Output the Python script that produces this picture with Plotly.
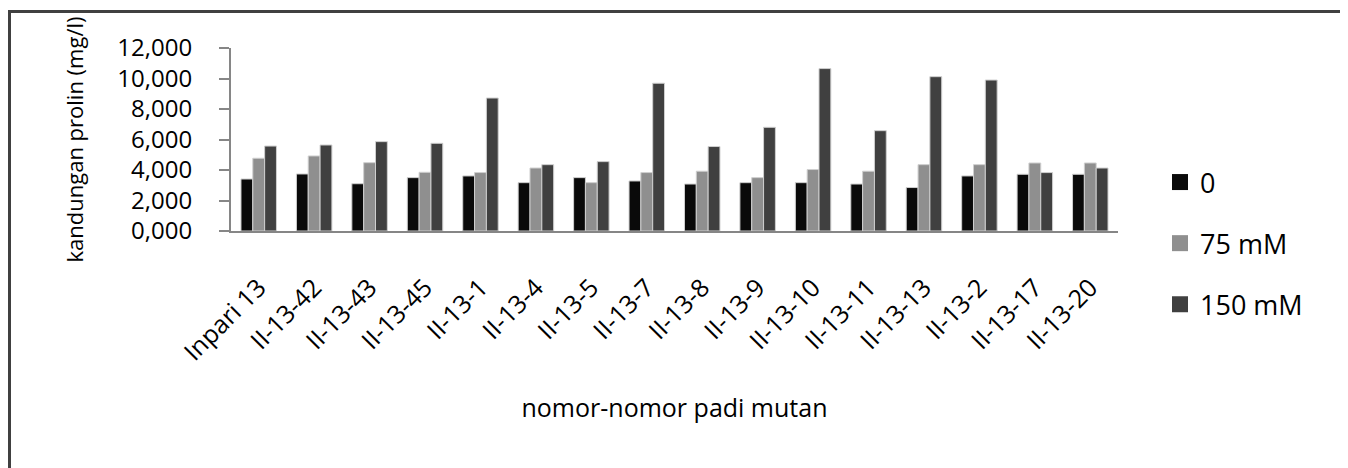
import plotly.graph_objects as go

categories = ["Inpari 13", "II-13-42", "II-13-43", "II-13-45", "II-13-1", "II-13-4",
              "II-13-5", "II-13-7", "II-13-8", "II-13-9", "II-13-10", "II-13-11",
              "II-13-13", "II-13-2", "II-13-17", "II-13-20"]
series_names = ["0", "75 mM", "150 mM"]
vals_0 = [3.41, 3.74, 3.10, 3.50, 3.61, 3.17, 3.50, 3.28, 3.08, 3.17, 3.17, 3.08, 2.85, 3.61, 3.72, 3.72]
vals_75 = [4.77, 4.92, 4.48, 3.85, 3.83, 4.13, 3.17, 3.83, 3.92, 3.50, 4.03, 3.92, 4.35, 4.35, 4.46, 4.46]
vals_150 = [5.57, 5.64, 5.86, 5.75, 8.72, 4.35, 4.55, 9.69, 5.54, 6.80, 10.65, 6.58, 10.12, 9.90, 3.83, 4.13]
y_ticks = [0, 2, 4, 6, 8, 10, 12]

colors = ["#0a0a0a", "#8f8f8f", "#404040"]
FONT = "Open Sans"

# page has an 8px body margin; figure is placed at (8, 8)
OFF = 8
W, H = 1348 - OFF, 468 - OFF
L, T = 231 - OFF, 48 - OFF
R = W - (1118 - OFF)
B = H - (231 - OFF)
pw, ph = W - L - R, H - T - B

fig = go.Figure()
for name, vals, c in zip(series_names, [vals_0, vals_75, vals_150], colors):
    fig.add_trace(go.Bar(x=categories, y=vals, name=name, marker_color=c,
                         marker_line_color="#cfcfcf", marker_line_width=1,
                         showlegend=False))
for i, (name, c) in enumerate(zip(series_names, colors)):
    fig.add_trace(go.Scatter(x=[None], y=[None], mode="markers", name=name,
                             legendgroup=f"g{i}",
                             marker=dict(symbol="square", size=16, color=c,
                                         line=dict(width=0))))

def px_x(p):  # page pixel -> paper x
    return (p - OFF - L) / pw

def px_y(p):  # page pixel -> paper y
    return (H - B - (p - OFF)) / ph

fig.add_shape(type="rect", xref="paper", yref="paper",
              x0=px_x(OFF + 1.5), x1=px_x(1346.5), y0=px_y(475), y1=px_y(11.5),
              line=dict(color="#404040", width=3), fillcolor="rgba(0,0,0,0)", layer="below")

fig.update_layout(
    width=W, height=H,
    margin=dict(l=L, r=R, t=T, b=B, autoexpand=False),
    paper_bgcolor="white", plot_bgcolor="white",
    separators=",.",
    barmode="group", bargap=0.36, bargroupgap=0,
    font=dict(family=FONT, color="black"),
    showlegend=True,
    legend=dict(x=px_x(1160), y=px_y(158), xanchor="left", yanchor="top",
                font=dict(size=27, family=FONT, color="black"),
                tracegroupgap=23, bgcolor="rgba(0,0,0,0)", itemwidth=30),
    xaxis=dict(showline=True, linecolor="#868686", linewidth=2, ticks="",
               tickangle=-45, tickfont=dict(size=25, family=FONT),
               ticklabelstandoff=30,
               title=dict(text="nomor-nomor padi mutan", font=dict(size=25, family=FONT),
                          standoff=33),
               showgrid=False, zeroline=False),
    yaxis=dict(range=[0, 12], tickvals=y_ticks, tickformat=".3f",
               showline=True, linecolor="#868686", linewidth=2,
               ticks="outside", ticklen=10, tickcolor="#868686", tickwidth=2,
               tickfont=dict(size=24, family=FONT), ticklabelstandoff=22,
               title=dict(text="kandungan prolin (mg/l)", font=dict(size=22, family=FONT),
                          standoff=28),
               showgrid=False, zeroline=False),
)

fig.write_html("out.html")
